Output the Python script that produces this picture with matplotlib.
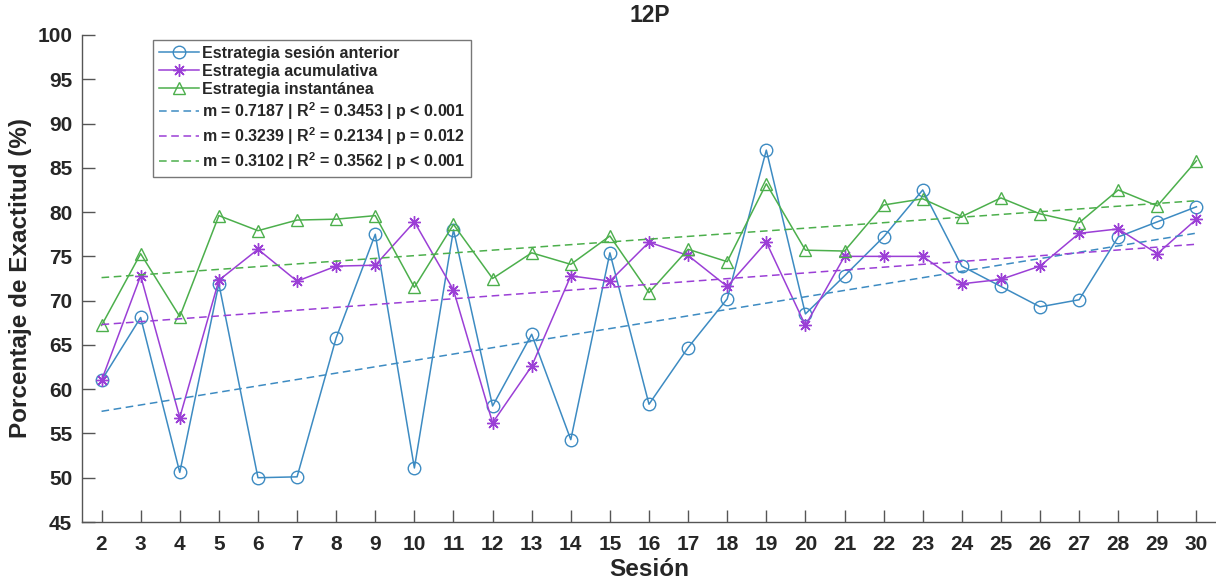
import numpy as np
import matplotlib
matplotlib.use("Agg")
import matplotlib.pyplot as plt

plt.rcParams['font.family'] = ['Liberation Sans', 'DejaVu Sans']
plt.rcParams['font.weight'] = 'bold'
plt.rcParams['mathtext.fontset'] = 'custom'
plt.rcParams['mathtext.bf'] = 'Liberation Sans:bold'
plt.rcParams['mathtext.rm'] = 'Liberation Sans:bold'
plt.rcParams['mathtext.default'] = 'bf'

sesiones = list(range(2, 31))
anterior = [61.0, 68.1, 50.6, 71.9, 50.0, 50.1, 65.8, 77.5, 51.1, 78.0,
            58.1, 66.2, 54.3, 75.4, 58.3, 64.7, 70.2, 87.0, 68.5, 72.8,
            77.2, 82.5, 73.9, 71.6, 69.3, 70.1, 77.2, 78.9, 80.6]
acumulativa = [61.0, 72.8, 56.8, 72.3, 75.8, 72.2, 73.9, 74.0, 78.9, 71.2,
               56.2, 62.6, 72.8, 72.2, 76.6, 75.1, 71.6, 76.6, 67.2, 75.0,
               75.0, 75.0, 71.9, 72.4, 73.9, 77.6, 78.1, 75.3, 79.2]
instantanea = [67.2, 75.3, 68.2, 79.6, 77.9, 79.1, 79.2, 79.6, 71.5, 78.6,
               72.5, 75.4, 74.1, 77.3, 70.9, 75.8, 74.4, 83.2, 75.7, 75.6,
               80.8, 81.5, 79.5, 81.6, 79.8, 78.8, 82.5, 80.7, 85.8]
# trend lines: slope (from legend) and value at the first session
trend_slopes = [0.7187, 0.3239, 0.3102]
trend_start = [57.5, 67.3, 72.6]

series_labels = ['Estrategia sesión anterior', 'Estrategia acumulativa', 'Estrategia instantánea']
trend_labels = [r'm = 0.7187 | R$^{2}$ = 0.3453 | p < 0.001',
                r'm = 0.3239 | R$^{2}$ = 0.2134 | p = 0.012',
                r'm = 0.3102 | R$^{2}$ = 0.3562 | p < 0.001']
yticks = list(range(45, 101, 5))

colors = ['#3d8bc2', '#9b3fd6', '#4caf4c']
markers = ['o', (8, 2, 0), '^']
msizes = [9, 9, 9]

fig = plt.figure(figsize=(12.16, 5.84), dpi=100)
ax = fig.add_axes([82/1216, 1 - 522/584, (1216 - 82)/1216, (522 - 35)/584])

x = np.array(sesiones)
data = [anterior, acumulativa, instantanea]
handles = []
for d, c, m, ms, lab in zip(data, colors, markers, msizes, series_labels):
    h, = ax.plot(x, d, color=c, lw=1.1, marker=m, markersize=ms,
                 markerfacecolor='none', markeredgecolor=c, markeredgewidth=1.0,
                 label=lab)
    handles.append(h)
for s0, m, c, lab in zip(trend_start, trend_slopes, colors, trend_labels):
    h, = ax.plot(x, s0 + m * (x - x[0]), color=c, lw=1.1, ls=(0, (5, 3)), label=lab)
    handles.append(h)

ax.set_xlim(1.5, 30.5)
ax.set_ylim(45, 100)
ax.set_xticks(sesiones)
ax.set_yticks(yticks)
ax.tick_params(direction='in', length=9, width=1, colors='#555555',
               labelcolor='#262626', labelsize=15)
ax.tick_params(axis='x', pad=9)
ax.tick_params(axis='y', pad=7)
for t in ax.get_xticklabels() + ax.get_yticklabels():
    t.set_fontweight('bold')
for s in ['top', 'right']:
    ax.spines[s].set_visible(False)
for s in ['left', 'bottom']:
    ax.spines[s].set_color('#555555')
    ax.spines[s].set_linewidth(1.0)

ax.set_xlabel('Sesión', fontsize=17.5, fontweight='bold', color='#262626', labelpad=3)
ax.set_ylabel('Porcentaje de Exactitud (%)', fontsize=17.5, fontweight='bold', color='#262626', labelpad=4)
fig.text(650/1216, 1 - 15/584, '12P', ha='center', va='center', fontsize=16.5,
         fontweight='bold', color='#262626')

leg = ax.legend(handles=handles, loc='upper left',
                bbox_to_anchor=((153 - 82)/1134, (522 - 40)/487),
                borderaxespad=0, frameon=True, fancybox=False,
                edgecolor='#555555', handlelength=2.5, handletextpad=0.2,
                labelspacing=0.2, borderpad=0.35, prop={'weight': 'bold', 'size': 11.5})
leg.get_frame().set_linewidth(1.0)
for t in leg.get_texts():
    t.set_color('#262626')

fig.savefig('out.png', dpi=100)
